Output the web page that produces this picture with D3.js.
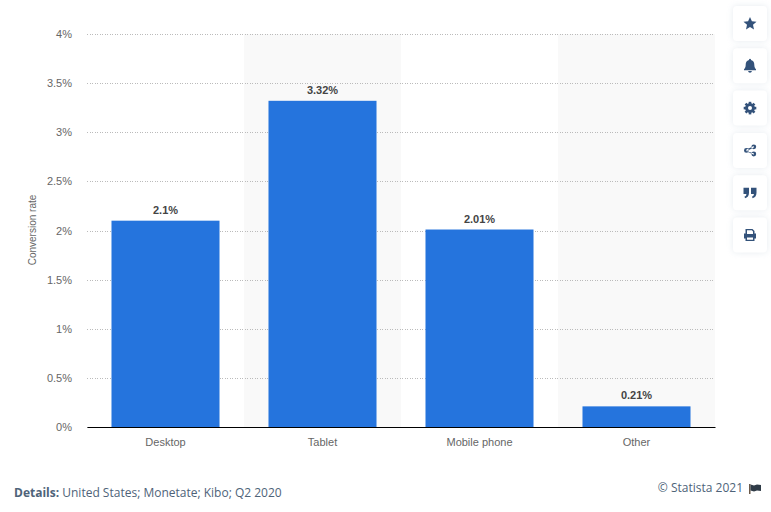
<!DOCTYPE html>
<html>
<head>
<meta charset="utf-8">
<script src="https://cdn.jsdelivr.net/npm/d3@7"></script>
<style>
  html, body { margin: 0; padding: 0; background: #fff; }
  svg { display: block; }
  text { font-family: "Liberation Sans", Arial, sans-serif; }
  .tick-label { font-size: 11px; fill: #666; }
  .footer { font-family: "Open Sans", sans-serif; font-size: 12px; fill: #4e6379; }
</style>
</head>
<body>
<svg id="chart"></svg>
<script>
const categories = ['Desktop', 'Tablet', 'Mobile phone', 'Other'];
const values = [2.1, 3.32, 2.01, 0.21];
const valueLabels = ['2.1%', '3.32%', '2.01%', '0.21%'];
const yTicks = [0, 0.5, 1, 1.5, 2, 2.5, 3, 3.5, 4];
const icons = ['star', 'bell', 'gear', 'share', 'quote', 'print'];

const width = 771, height = 512;
const margin = {top: 34, right: 56, bottom: 85, left: 87};
const iconColor = '#33527a';

const svg = d3.select('#chart').attr('width', width).attr('height', height);

const defs = svg.append('defs');
const shadow = defs.append('filter').attr('id', 'btnShadow')
  .attr('x', '-40%').attr('y', '-40%').attr('width', '180%').attr('height', '180%');
shadow.append('feDropShadow').attr('dx', 0).attr('dy', 0).attr('stdDeviation', 3)
  .attr('flood-color', '#c8d2de').attr('flood-opacity', 0.45);

const xBand = d3.scaleBand().domain(categories).range([margin.left, width - margin.right]);
const xBar = d3.scaleBand().domain(categories).range([margin.left, width - margin.right])
  .paddingInner(0.312).paddingOuter(0.156);
const y = d3.scaleLinear().domain([0, 4]).range([height - margin.bottom, margin.top]);

// alternating background stripes
svg.append('g').selectAll('rect')
  .data(categories.filter((d, i) => i % 2 === 1))
  .join('rect')
  .attr('x', d => xBand(d))
  .attr('y', margin.top)
  .attr('width', xBand.bandwidth())
  .attr('height', height - margin.bottom - margin.top)
  .attr('fill', '#f9f9f9');

// y axis with dotted grid
const yAxisG = svg.append('g')
  .attr('transform', `translate(${margin.left},0)`)
  .call(d3.axisLeft(y).tickValues(yTicks).tickFormat(d => d + '%')
    .tickSize(-(width - margin.left - margin.right)).tickPadding(15));
yAxisG.select('.domain').remove();
yAxisG.selectAll('.tick line')
  .attr('stroke', '#bbb').attr('stroke-dasharray', '1,1.5')
  .attr('shape-rendering', 'crispEdges');
yAxisG.selectAll('.tick text').attr('class', 'tick-label').attr('font-family', null).attr('font-size', null);

// bars
svg.append('g').selectAll('rect')
  .data(values)
  .join('rect')
  .attr('x', (d, i) => xBar(categories[i]))
  .attr('y', d => y(d))
  .attr('width', xBar.bandwidth())
  .attr('height', d => y(0) - y(d))
  .attr('fill', '#2574dd');

// value labels
svg.append('g').selectAll('text')
  .data(values)
  .join('text')
  .attr('x', (d, i) => xBand(categories[i]) + xBand.bandwidth() / 2)
  .attr('y', d => y(d) - 7)
  .attr('text-anchor', 'middle')
  .style('font-size', '11px')
  .style('font-weight', 'bold')
  .style('fill', '#444')
  .text((d, i) => valueLabels[i]);

// x axis
const xAxisG = svg.append('g')
  .attr('transform', `translate(0,${y(0)})`)
  .call(d3.axisBottom(xBand).tickSize(0).tickPadding(11));
xAxisG.select('.domain').attr('stroke', '#000').attr('stroke-width', 1);
xAxisG.selectAll('.tick text').attr('class', 'tick-label').attr('font-family', null).attr('font-size', null);

// y axis title
svg.append('text')
  .attr('transform', `translate(36,230) rotate(-90)`)
  .attr('text-anchor', 'middle')
  .style('font-size', '10px')
  .style('fill', '#666')
  .text('Conversion rate');

// footer
const details = svg.append('text').attr('class', 'footer').attr('x', 14).attr('y', 497);
details.append('tspan').style('font-weight', 'bold').text('Details:');
details.append('tspan').text(' United States; Monetate; Kibo; Q2 2020');

svg.append('text').attr('class', 'footer')
  .attr('x', 743).attr('y', 492).attr('text-anchor', 'end')
  .text('© Statista 2021');

// little flag next to the copyright
const flag = svg.append('g').attr('transform', 'translate(749,484)');
flag.append('rect').attr('width', 1.5).attr('height', 10).attr('fill', '#6b5a4a');
flag.append('path').attr('d', 'M1.5 0.5 L5 1.5 L8 0.5 L12 1 L12 7 L8 6.5 L5 7.5 L1.5 6.5 Z').attr('fill', '#2f3b47');

// side buttons
const iconPaths = {
  star: 'M0 -6.5 L1.9 -2.2 L6.5 -1.8 L3 1.3 L4 5.9 L0 3.5 L-4 5.9 L-3 1.3 L-6.5 -1.8 L-1.9 -2.2 Z',
  bell: 'M0 -7 C1 -7 1 -6 1 -5.7 C3.5 -5.2 4.3 -3 4.3 -1 C4.3 1.5 5 2.5 6 3.5 L6 4.5 L-6 4.5 L-6 3.5 C-5 2.5 -4.3 1.5 -4.3 -1 C-4.3 -3 -3.5 -5.2 -1 -5.7 C-1 -6 -1 -7 0 -7 Z M-1.8 5.3 L1.8 5.3 C1.8 6.3 1 7 0 7 C-1 7 -1.8 6.3 -1.8 5.3 Z',
  share: 'M3.8 -6 A2.4 2.4 0 1 1 3.8 -1.2 A2.4 2.4 0 1 1 3.8 -6 Z M3.8 1.2 A2.4 2.4 0 1 1 3.8 6 A2.4 2.4 0 1 1 3.8 1.2 Z M-3.6 -2.4 A2.4 2.4 0 1 1 -3.6 2.4 A2.4 2.4 0 1 1 -3.6 -2.4 Z M-3.6 -0.9 L3.8 -4.4 L3.8 -2.8 L-3.6 0.9 L3.8 2.8 L3.8 4.4 L-3.6 0.9 Z',
  quote: 'M-6.5 -5 L-1 -5 L-1 0 C-1 3 -2.5 5 -5 5.5 L-5.5 3.8 C-4.3 3.4 -3.7 2.6 -3.6 1.2 L-6.5 1.2 Z M1 -5 L6.5 -5 L6.5 0 C6.5 3 5 5 2.5 5.5 L2 3.8 C3.2 3.4 3.8 2.6 3.9 1.2 L1 1.2 Z',
  print: 'M-4 -6 L2.5 -6 L4.5 -4 L4.5 -1.5 L6 -1.5 L6 3.5 L4.5 3.5 L4.5 6 L-4.5 6 L-4.5 3.5 L-6 3.5 L-6 -1.5 L-4.5 -1.5 L-4.5 -6 Z M-3 -4.7 L-3 -1 L3 -1 L3 -3.5 L1.8 -4.7 Z M-3 2.5 L-3 4.7 L3 4.7 L3 2.5 Z'
};
// gear: teeth from a ring of short bars plus a disc with a hole
const buttonY = d3.scalePoint().domain(icons).range([23.5, 235]);

const buttons = svg.append('g').selectAll('g')
  .data(icons)
  .join('g')
  .attr('transform', d => `translate(750,${buttonY(d)})`);

buttons.append('rect')
  .attr('x', -17).attr('y', -17.5).attr('width', 34).attr('height', 35).attr('rx', 4)
  .attr('fill', '#fff').attr('filter', 'url(#btnShadow)');

buttons.filter(d => d !== 'gear').append('path')
  .attr('d', d => iconPaths[d])
  .attr('fill', iconColor)
  .attr('fill-rule', 'evenodd');

const gear = buttons.filter(d => d === 'gear');
gear.append('circle').attr('r', 3.4).attr('fill', 'none').attr('stroke', iconColor).attr('stroke-width', 3);
gear.selectAll('rect.tooth')
  .data(d3.range(0, 180, 45))
  .join('rect')
  .attr('class', 'tooth')
  .attr('x', -1.3).attr('y', -6.3).attr('width', 2.6).attr('height', 12.6)
  .attr('fill', iconColor)
  .attr('transform', d => `rotate(${d})`);
gear.append('circle').attr('r', 2).attr('fill', '#fff');
</script>
</body>
</html>
